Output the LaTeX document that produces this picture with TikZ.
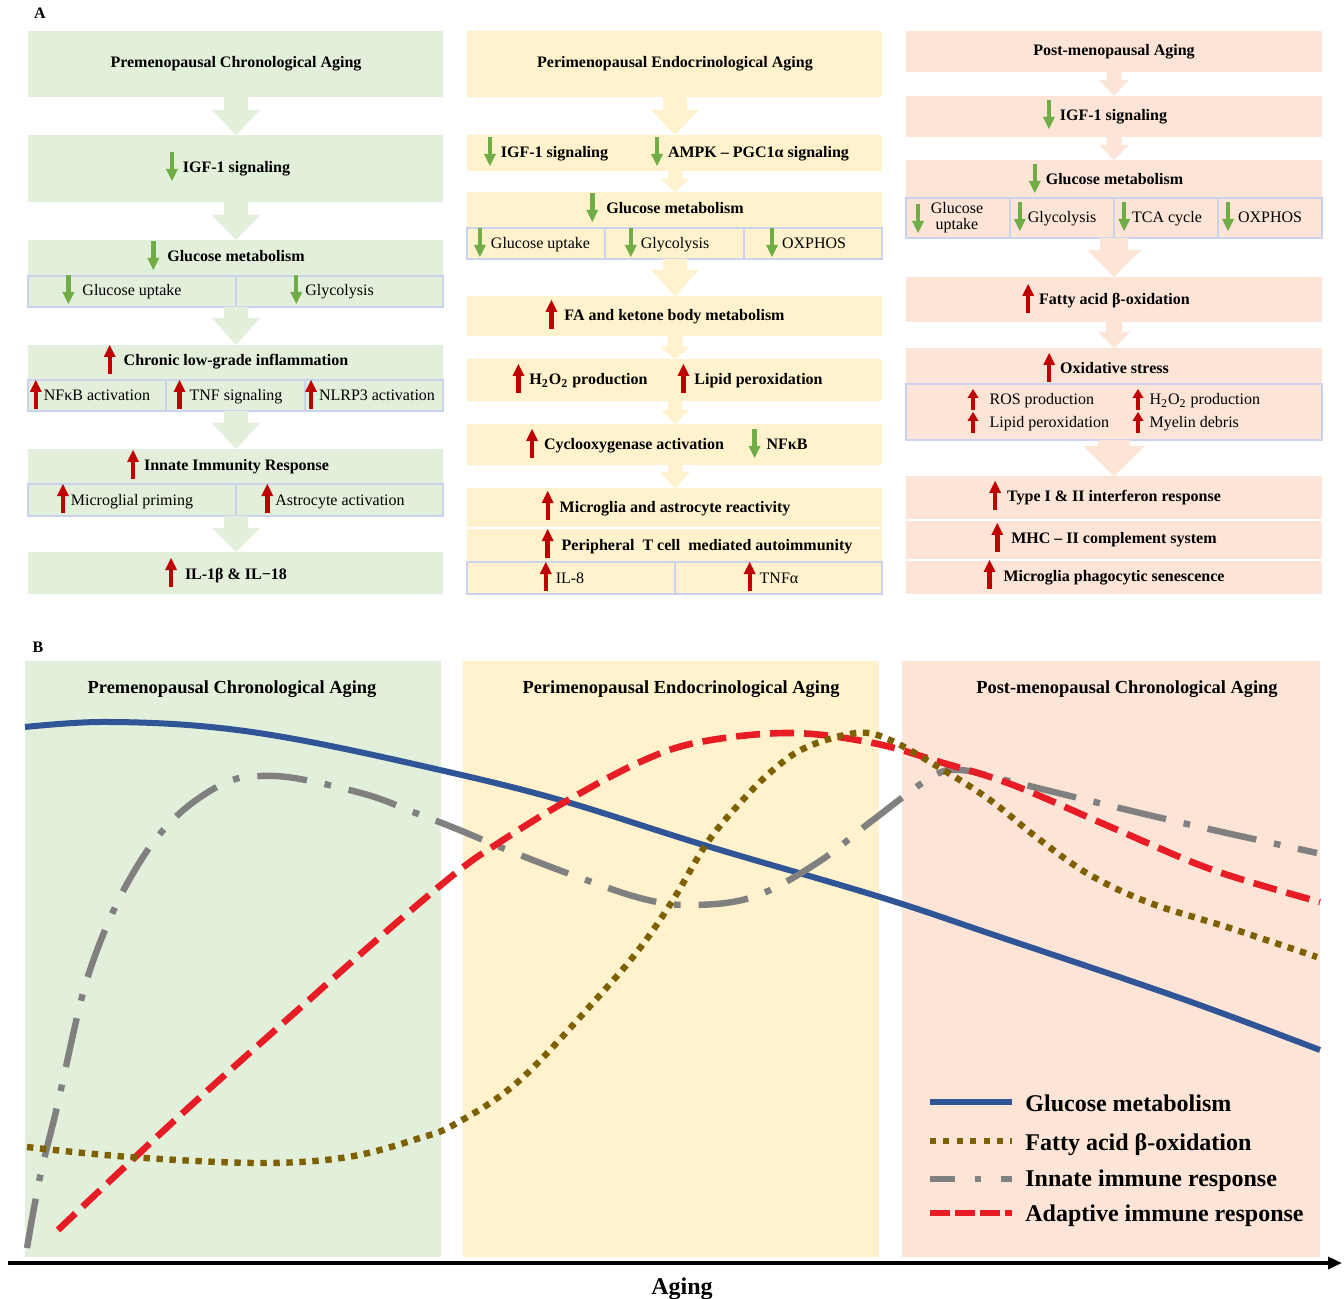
\documentclass[tikz,border=0pt]{standalone}
\usepackage{fontspec}
\setmainfont{Liberation Serif}
\usetikzlibrary{arrows.meta}
\definecolor{gA}{HTML}{E2EFDA}
\definecolor{yA}{HTML}{FFF2CC}
\definecolor{pA}{HTML}{FCE4D6}
\definecolor{cellb}{HTML}{C9D3EE}
\definecolor{upred}{HTML}{C00000}
\definecolor{dngreen}{HTML}{70AD47}
\definecolor{cblue}{HTML}{2F5597}
\definecolor{cgray}{HTML}{808080}
\definecolor{cred}{HTML}{E81C24}
\definecolor{colive}{HTML}{7F6000}
\newcommand{\UA}{\tikz[baseline=0pt]{\fill[upred] (-1.1pt,-4pt) rectangle (1.1pt,5pt); \fill[upred] (-3pt,4.5pt) -- (3pt,4.5pt) -- (0pt,10.5pt) -- cycle;}}
\newcommand{\DA}{\tikz[baseline=0pt]{\fill[dngreen] (-1.1pt,10.5pt) rectangle (1.1pt,1.5pt); \fill[dngreen] (-3pt,2pt) -- (3pt,2pt) -- (0pt,-4pt) -- cycle;}}
\newcommand{\UAs}{\tikz[baseline=0pt]{\fill[upred] (-1pt,-2.5pt) rectangle (1pt,4pt); \fill[upred] (-2.8pt,3.5pt) -- (2.8pt,3.5pt) -- (0pt,8pt) -- cycle;}}
\newcommand{\blockarrow}[7]{\fill[#1] ({#2-#6},#3) -- ({#2+#6},#3) -- ({#2+#6},#4) -- ({#2+#7},#4) -- (#2,#5) -- ({#2-#7},#4) -- ({#2-#6},#4) -- cycle;}
\tikzset{
  tb/.style={font=\fontsize{8}{9.6}\selectfont\bfseries, inner sep=0pt, anchor=base},
  tr/.style={font=\fontsize{8}{9.6}\selectfont, inner sep=0pt, anchor=base},
  cellline/.style={draw=cellb, line width=0.6pt},
  btitle/.style={font=\fontsize{9.2}{11}\selectfont\bfseries, inner sep=0pt, anchor=base},
  legtext/.style={font=\fontsize{12}{14}\selectfont\bfseries, inner sep=0pt, anchor=base west},
  glu/.style={draw=cblue, line width=3pt},
  fao/.style={draw=colive, line width=3.2pt, dash pattern=on 3.2pt off 3.3pt},
  inn/.style={draw=cgray, line width=3.2pt, dash pattern=on 25pt off 9pt on 3.3pt off 9pt},
  ada/.style={draw=cred, line width=3.3pt, dash pattern=on 12pt off 5pt},
}
\begin{document}
\begin{tikzpicture}[x=0.5pt,y=-0.5pt]
\useasboundingbox (0,0) rectangle (1344,1299);
\fill[white] (0,0) rectangle (1344,1299);

% ---------- Panel A labels
\node[tb] (labA) at (40,19) {A};
\node[tb] (labB) at (38,652) {B};

% ---------- Column 1 (green)
\fill[gA] (28,31) rectangle (443,97);
\fill[gA] (28,135) rectangle (443,202);
\fill[gA] (28,240) rectangle (443,307);
\draw[cellline] (28,276) rectangle (236,307);
\draw[cellline] (236,276) rectangle (443,307);
\fill[gA] (28,345) rectangle (443,411);
\draw[cellline] (28,380) rectangle (166,411);
\draw[cellline] (166,380) rectangle (305,411);
\draw[cellline] (305,380) rectangle (443,411);
\fill[gA] (28,449) rectangle (443,516);
\draw[cellline] (28,484) rectangle (236,516);
\draw[cellline] (236,484) rectangle (443,516);
\fill[gA] (28,552) rectangle (443,594);
\blockarrow{gA}{236}{97}{110}{135}{12}{24}
\blockarrow{gA}{236}{202}{215}{240}{12}{24}
\blockarrow{gA}{236}{307}{318}{345}{12}{24}
\blockarrow{gA}{236}{411}{423}{449}{12}{24}
\blockarrow{gA}{236}{516}{528}{552}{12}{24}

\node[tb] (t11) at (236,68) {Premenopausal Chronological Aging};
\node[tb] (t12) at (228,173) {\DA\hspace{2.5pt}IGF-1 signaling};
\node[tb] (t13) at (226,262) {\DA\hspace{4pt}Glucose metabolism};
\node[tr] (t13a) at (122,296) {\DA\hspace{4pt}Glucose uptake};
\node[tr] (t13b) at (332,296) {\DA\hspace{1.5pt}Glycolysis};
\node[tb] (t14) at (226,366) {\UA\hspace{4pt}Chronic low-grade inflammation};
\node[tr] (t14a) at (90,401) {\UA\hspace{1pt}NFκB activation};
\node[tr] (t14b) at (228,401) {\UA\hspace{2pt}TNF signaling};
\node[tr] (t14c) at (370,401) {\UA\hspace{1pt}NLRP3 activation};
\node[tb] (t15) at (228,471) {\UA\hspace{2.5pt}Innate Immunity Response};
\node[tr] (t15a) at (125,505) {\UA\hspace{1pt}Microglial priming};
\node[tr] (t15b) at (333,505) {\UA\hspace{1pt}Astrocyte activation};
\node[tb] (t16) at (226,579) {\UA\hspace{4pt}IL-1β \& IL−18};

% ---------- Column 2 (yellow)
\fill[yA] (467,31) rectangle (882,97);
\fill[yA] (467,135) rectangle (882,171);
\fill[yA] (467,192) rectangle (882,259);
\draw[cellline] (467,228) rectangle (605,259);
\draw[cellline] (605,228) rectangle (744,259);
\draw[cellline] (744,228) rectangle (882,259);
\fill[yA] (467,296) rectangle (882,336);
\fill[yA] (467,359) rectangle (882,401);
\fill[yA] (467,424) rectangle (882,465);
\fill[yA] (467,488) rectangle (882,527);
\fill[yA] (467,529) rectangle (882,594);
\draw[cellline] (467,562) rectangle (675,594);
\draw[cellline] (675,562) rectangle (882,594);
\blockarrow{yA}{675}{97}{110}{135}{12}{24}
\blockarrow{yA}{675}{171}{179}{192}{7}{14}
\blockarrow{yA}{675}{259}{270}{296}{12}{24}
\blockarrow{yA}{675}{336}{347}{359}{7.5}{15}
\blockarrow{yA}{675}{401}{410}{424}{7}{14}
\blockarrow{yA}{675}{465}{472}{488}{7}{15}

\node[tb] (t21) at (675,68) {Perimenopausal Endocrinological Aging};
\node[tb] (t22a) at (546,158) {\DA\hspace{2.5pt}IGF-1 signaling};
\node[tb] (t22b) at (750,158) {\DA\hspace{2.5pt}AMPK – PGC1α signaling};
\node[tb] (t23) at (665,214) {\DA\hspace{4pt}Glucose metabolism};
\node[tr] (t23a) at (532,249) {\DA\hspace{2.5pt}Glucose uptake};
\node[tr] (t23b) at (667,249) {\DA\hspace{2pt}Glycolysis};
\node[tr] (t23c) at (806,249) {\DA\hspace{2pt}OXPHOS};
\node[tb] (t24) at (665,321) {\UA\hspace{3.5pt}FA and ketone body metabolism};
\node[tb] (t25a) at (580,385) {\UA\hspace{2.5pt}H\textsubscript{2}O\textsubscript{2} production};
\node[tb] (t25b) at (750,385) {\UA\hspace{2.5pt}Lipid peroxidation};
\node[tb] (t26a) at (625,450) {\UA\hspace{3pt}Cyclooxygenase activation};
\node[tb] (t26b) at (778,450) {\DA\hspace{3pt}NFκB};
\node[tb] (t27) at (666,512) {\UA\hspace{3pt}Microglia and astrocyte reactivity};
\node[tb] (t28) at (697,550) {\UA\hspace{4pt}Peripheral\ \ T cell\ \ mediated autoimmunity};
\node[tr] (t28a) at (562,583) {\UA\hspace{2pt}IL-8};
\node[tr] (t28b) at (771,583) {\UA\hspace{2pt}TNFα};

% ---------- Column 3 (pink)
\fill[pA] (906,31) rectangle (1322,72);
\fill[pA] (906,96) rectangle (1322,137);
\fill[pA] (906,160) rectangle (1322,238);
\draw[cellline] (906,198) rectangle (1010,238);
\draw[cellline] (1010,198) rectangle (1114,238);
\draw[cellline] (1114,198) rectangle (1218,238);
\draw[cellline] (1218,198) rectangle (1322,238);
\fill[pA] (906,277) rectangle (1322,322);
\fill[pA] (906,348) rectangle (1322,440);
\draw[cellline] (906,384) rectangle (1322,440);
\fill[pA] (906,476) rectangle (1322,519);
\fill[pA] (906,521) rectangle (1322,559);
\fill[pA] (906,561) rectangle (1322,594);
\blockarrow{pA}{1114}{72}{80}{96}{7.5}{14.5}
\blockarrow{pA}{1114}{137}{145}{160}{7.5}{14.5}
\blockarrow{pA}{1114}{238}{250}{277}{14}{27}
\blockarrow{pA}{1114}{322}{332}{348}{8}{16}
\blockarrow{pA}{1114}{440}{446}{476}{16}{31}

\node[tb] (t31) at (1114,56) {Post-menopausal Aging};
\node[tb] (t32) at (1105,121) {\DA\hspace{2.5pt}IGF-1 signaling};
\node[tb] (t33) at (1106,185) {\DA\hspace{2.5pt}Glucose metabolism};
\node[tr] (a33a) at (918,225) {\DA};
\node[font=\fontsize{8}{8}\selectfont, inner sep=0pt, align=center] (t33a) at (957,218) {Glucose\\uptake};
\node[tr] (t33b) at (1055,223) {\DA\hspace{1pt}Glycolysis};
\node[tr] (t33c) at (1160,223) {\DA\hspace{1pt}TCA cycle};
\node[tr] (t33d) at (1262,223) {\DA\hspace{2pt}OXPHOS};
\node[tb] (t34) at (1106,305) {\UA\hspace{2.5pt}Fatty acid β-oxidation};
\node[tb] (t35) at (1106,374) {\UA\hspace{2.5pt}Oxidative stress};
\node[tr, anchor=base west] (t35a) at (967,405) {\UAs\hspace{5.5pt}ROS production};
\node[tr, anchor=base west] (t35b) at (967,428) {\UAs\hspace{5.5pt}Lipid peroxidation};
\node[tr, anchor=base west] (t35c) at (1132,405) {\UAs\hspace{3pt}H\textsubscript{2}O\textsubscript{2} production};
\node[tr, anchor=base west] (t35d) at (1132,428) {\UAs\hspace{3pt}Myelin debris};
\node[tb] (t36) at (1105,502) {\UA\hspace{3pt}Type I \& II interferon response};
\node[tb] (t37) at (1104,544) {\UA\hspace{4pt}MHC – II complement system};
\node[tb] (t38) at (1104,581) {\UA\hspace{4pt}Microglia phagocytic senescence};

% ---------- Panel B backgrounds
\fill[gA] (25,661) rectangle (441,1257);
\fill[yA] (463,661) rectangle (879,1257);
\fill[pA] (902,661) rectangle (1320,1257);
\node[btitle] (b1) at (232,693) {Premenopausal Chronological Aging};
\node[btitle] (b2) at (681,693) {Perimenopausal Endocrinological Aging};
\node[btitle] (b3) at (1127,693) {Post-menopausal Chronological Aging};

% ---------- Curves
\draw[glu] plot[smooth, tension=0.6] coordinates {(25,727) (100,722) (200,726) (300,740) (440,770) (560,800) (707,846) (880,897) (1000,937) (1180,998) (1320,1050)};
\draw[inn] plot[smooth, tension=0.6] coordinates {(27,1248) (40,1177) (57,1107) (78,1013) (90,970) (108,923) (128,882) (155,840) (187,807) (227,782) (260,776) (300,779) (368,795) (413,812) (457,829) (500,847) (567,873) (640,898) (690,905) (753,897) (817,863) (873,820) (930,778) (960,770) (1013,782) (1107,805) (1200,827) (1317,853)};
\draw[ada] plot[smooth, tension=0.6] coordinates {(58,1230) (130,1162) (197,1100) (300,1008) (380,937) (457,872) (500,842) (563,803) (640,762) (700,742) (790,733) (873,743) (940,762) (1013,785) (1113,828) (1213,870) (1320,902)};
\draw[fao] plot[smooth, tension=0.6] coordinates {(27,1147) (130,1157) (260,1163) (348,1157) (420,1138) (457,1123) (520,1080) (600,995) (640,948) (673,900) (707,843) (740,803) (773,770) (807,747) (857,733) (890,740) (940,768) (990,800) (1040,840) (1090,875) (1150,903) (1230,928) (1317,957)};

% ---------- Legend
\coordinate (l1a) at (930,1102); \coordinate (l1b) at (1012,1102);
\coordinate (l2a) at (930,1141); \coordinate (l2b) at (1012,1141);
\coordinate (l3a) at (930,1179); \coordinate (l3b) at (1012,1179);
\coordinate (l4a) at (930,1213); \coordinate (l4b) at (1012,1213);
\draw[glu] (l1a) -- (l1b);
\draw[fao, dash pattern=on 3pt off 3.7pt] (l2a) -- (l2b);
\draw[inn, dash pattern=on 12.5pt off 10pt on 2.8pt off 10pt] (l3a) -- (l3b);
\draw[ada, dash pattern=on 10pt off 2.5pt] (l4a) -- (l4b);
\node[legtext] (g1) at (1025,1111) {Glucose metabolism};
\node[legtext] (g2) at (1025,1150) {Fatty acid β-oxidation};
\node[legtext] (g3) at (1025,1186) {Innate immune response};
\node[legtext] (g4) at (1025,1221) {Adaptive immune response};

% ---------- Axis
\coordinate (ax0) at (8,1263);
\coordinate (ax1) at (1342,1263);
\draw[line width=1.8pt, -{Triangle[length=7pt,width=6pt]}] (ax0) -- (ax1);
\node[font=\fontsize{12}{14}\selectfont\bfseries, inner sep=0pt, anchor=base] (aging) at (682,1294) {Aging};
\end{tikzpicture}
\end{document}
